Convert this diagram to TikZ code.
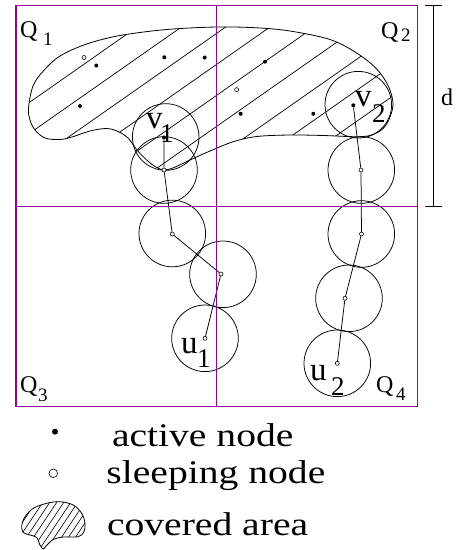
\documentclass[tikz,border=0pt]{standalone}
\usepackage{fontspec}
\setmainfont{Liberation Serif}
\definecolor{quadline}{RGB}{153,0,153}
\begin{document}
\begin{tikzpicture}[x=1pt,y=-1pt,
  quadrule/.style={draw=quadline, line width=1.2pt},
  blobline/.style={draw=black, line width=0.8pt},
  hatchline/.style={draw=black, line width=0.7pt},
  rangecircle/.style={draw=black, line width=0.75pt},
  sensorlink/.style={draw=black, line width=0.75pt},
  activenode/.style={circle, fill=black, inner sep=0pt, minimum size=4pt},
  sleepnode/.style={circle, draw=black, fill=white, line width=0.6pt, inner sep=0pt, minimum size=4pt},
  lbl/.style={anchor=base west, inner sep=0pt, outer sep=0pt},
  bigtext/.style={lbl, font=\fontsize{33}{33}\selectfont},
  subtext/.style={lbl, font=\fontsize{27}{27}\selectfont},
  qtext/.style={lbl, font=\fontsize{24}{24}\selectfont},
  qsubtext/.style={lbl, font=\fontsize{19}{19}\selectfont}]
\useasboundingbox (0,0) rectangle (458,550);

% covered area
\path[save path=\blobshape] plot[smooth cycle, tension=0.55] coordinates {
  (28.5,108) (33,86) (43.3,71) (60,56) (86.7,44) (120,35.5) (166.7,29.5)
  (216.7,27) (256.7,27.8) (290,31) (330,39.5) (356.7,53) (376.7,69)
  (388.3,86) (393,103) (390,117) (383.3,128.3) (371.7,135) (356.7,136.7)
  (323.3,135.5) (290,135) (256.7,136.5) (233.3,141.7) (210,151) (190,160)
  (174,167.5) (164,170) (155,166.5) (146.7,160) (137,150) (128,138)
  (118,131.5) (106.7,128.5) (90,131) (72,137) (60,139.5) (45,138)
  (35,130) (30,120)};
\begin{scope}
  \clip[use path=\blobshape];
  \foreach \k in {0,...,8}
    \draw[hatchline] (0,{123+31*\k}) -- (458,{123+31*\k-320.6});
\end{scope}
\draw[blobline, use path=\blobshape];

% sensing ranges
\coordinate (cv1) at (165.7,137);
\coordinate (ca1) at (164,170);
\coordinate (ca2) at (172.3,233.5);
\coordinate (ca3) at (223,274.3);
\coordinate (cu1) at (205,338.3);
\coordinate (cv2) at (358.3,104.7);
\coordinate (cb1) at (361.3,170);
\coordinate (cb2) at (361.3,234);
\coordinate (cb3) at (349,298.3);
\coordinate (cu2) at (337.3,363.3);
\foreach \c in {cv1,ca1,ca2,ca3,cu1,cv2,cb1,cb2,cb3,cu2}
  \draw[rangecircle] (\c) circle[radius=33.3pt];

% sensors on the two paths
\node[activenode] (v1) at (164,137.5) {};
\node[sleepnode] (a1) at (164,170) {};
\node[sleepnode] (a2) at (172.3,234) {};
\node[sleepnode] (a3) at (221,274) {};
\node[sleepnode] (u1) at (205,338.3) {};
\node[activenode] (v2) at (353.3,105.3) {};
\node[sleepnode] (b1) at (361,170) {};
\node[sleepnode] (b2) at (361.5,234) {};
\node[sleepnode] (b3) at (345,298.3) {};
\node[sleepnode] (u2) at (337.3,363.3) {};
\draw[sensorlink] (v1) -- (a1) -- (a2) -- (a3) -- (u1);
\draw[sensorlink] (v2) -- (b1) -- (b2) -- (b3) -- (u2);

% other sensors inside the covered area
\node[activenode] (n1) at (96.3,65.5) {};
\node[activenode] (n2) at (164.3,57.3) {};
\node[activenode] (n3) at (204.7,57.5) {};
\node[activenode] (n4) at (80,106) {};
\node[activenode] (n5) at (265,61.7) {};
\node[activenode] (n6) at (240.7,113.8) {};
\node[activenode] (n7) at (313.3,113.8) {};
\node[sleepnode] (n8) at (84,57.5) {};
\node[sleepnode] (n9) at (236.7,89.6) {};

% path end labels
\node[bigtext] (lv1) at (146,128) {v};
\node[subtext] (lv1s) at (160,142) {1};
\node[bigtext] (lv2) at (355,106) {v};
\node[subtext] (lv2s) at (372,122) {2};
\node[bigtext] (lu1) at (181,353) {u};
\node[subtext] (lu1s) at (197,367) {1};
\node[bigtext] (lu2) at (310,380) {u};
\node[subtext] (lu2s) at (331,395) {2};

% quadrants
\draw[quadrule] (16,5.3) rectangle (417.3,406.7);
\draw[quadrule] (216.7,5.3) -- (216.7,406.7);
\draw[quadrule] (16,206.5) -- (417.3,206.5);
\node[qtext] (q1) at (20,37) {Q};
\node[qsubtext] (q1s) at (43,45) {1};
\node[qtext] (q2) at (381,38) {Q};
\node[qsubtext] (q2s) at (401,41.7) {2};
\node[qtext] (q3) at (20,392) {Q};
\node[qsubtext] (q3s) at (38,401.5) {3};
\node[qtext] (q4) at (376,392) {Q};
\node[qsubtext] (q4s) at (396,400) {4};

% side length d
\coordinate (dtop) at (433.3,5.3);
\coordinate (dbot) at (433.3,206.5);
\draw[sensorlink] (dtop) -- (dbot);
\draw[sensorlink] ([xshift=-8.3pt]dtop) -- ([xshift=8.3pt]dtop);
\draw[sensorlink] ([xshift=-8.3pt]dbot) -- ([xshift=8.3pt]dbot);
\node[qtext] (dl) at (441,105) {d};

% legend
\node[activenode, minimum size=6pt] (la) at (55,431.7) {};
\node[sleepnode, minimum size=8.6pt] (ls) at (53.3,473.3) {};
\path[save path=\keyshape] plot[smooth cycle, tension=0.55] coordinates {
  (21.7,526) (25,516.7) (33.3,508.3) (46.7,503.3) (60,501.7) (73.3,505)
  (81.7,513.3) (85,523.3) (84,531.7) (78.3,536.7) (63.3,537) (53.3,539.5)
  (46.5,545.5) (43.3,549) (40,545) (36.7,537.5) (30,535) (23.3,532.5)};
\begin{scope}
  \clip[use path=\keyshape];
  \foreach \k in {0,...,14}
    \draw[hatchline, line width=0.6pt] (0,{535+10.5*\k}) -- (120,{535+10.5*\k-180});
\end{scope}
\draw[blobline, use path=\keyshape];
\node[bigtext] (ta) at (112,446.7) {\scalebox{1.2}[1]{active node}};
\node[bigtext] (ts) at (106.5,483.3) {\scalebox{1.2}[1]{sleeping node}};
\node[bigtext] (tc) at (107,535) {\scalebox{1.2}[1]{covered area}};
\end{tikzpicture}
\end{document}
